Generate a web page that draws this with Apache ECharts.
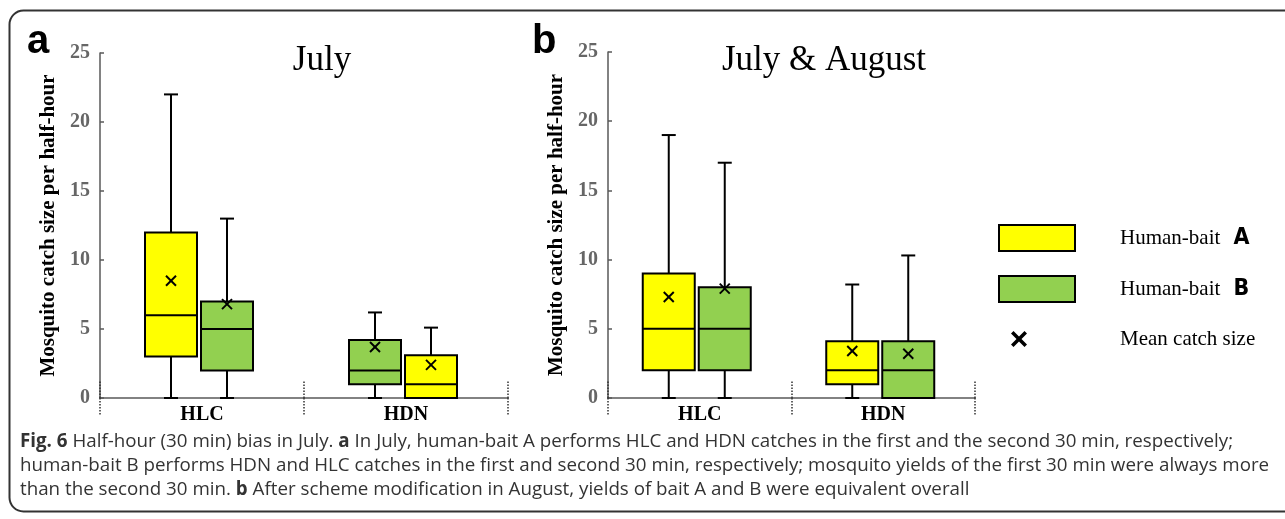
<!DOCTYPE html>
<html><head><meta charset="utf-8">
<script src="https://cdn.jsdelivr.net/npm/echarts@6/dist/echarts.min.js"></script>
<style>html,body{margin:0;padding:0;background:#fff}#c{width:1285px;height:519px}</style>
</head><body><div id="c"></div>
<script>
// ---------- data ----------
const categories = ['HLC', 'HDN'];
const yMin = 0, yMax = 25, yStep = 5;
// [min, Q1, median, Q3, max] per category (HLC, HDN)
// Panel a — July
const julyBaitA = [[0, 3, 6, 12, 22], [0, 0, 1, 3.1, 5.1]];
const julyBaitAHalf = [1, 2];           // half-hour slot (1st / 2nd 30 min)
const julyBaitAMean = [8.5, 2.4];
const julyBaitB = [[0, 2, 5, 7, 13], [0, 1, 2, 4.2, 6.2]];
const julyBaitBHalf = [2, 1];
const julyBaitBMean = [6.8, 3.7];
// Panel b — July & August
const julAugBaitA = [[0, 2, 5, 9, 19], [0, 1, 2, 4.1, 8.2]];
const julAugBaitAHalf = [1, 1];
const julAugBaitAMean = [7.3, 3.4];
const julAugBaitB = [[0, 2, 5, 8, 17], [0, 0, 2, 4.1, 10.3]];
const julAugBaitBHalf = [2, 2];
const julAugBaitBMean = [7.9, 3.2];

const panelTitles = ['July', 'July & August'];
const yAxisName = 'Mosquito catch size per half-hour';
const seriesNames = ['Human-bait A', 'Human-bait B', 'Mean catch size'];

// ---------- styles ----------
const COLOR_A = '#ffff00', COLOR_B = '#92d050';
const SLOT_OFFSET = {1: -31, 2: 25};
const BOX_W = 52, CAP_W = 14;
const SERIF = '"Liberation Serif","Times New Roman",serif';

function boxRows(stats, halves) {
  return stats.map((s, i) => [i, halves[i]].concat(s));
}
function meanRows(meansA, halvesA, meansB, halvesB) {
  return meansA.map((m, i) => [i, halvesA[i], m]).concat(meansB.map((m, i) => [i, halvesB[i], m]));
}
function ln(x1, y1, x2, y2) {
  return {type: 'line', shape: {x1, y1, x2, y2}, style: {stroke: '#000', lineWidth: 2}};
}
function renderBox(params, api) {
  const cat = api.value(0), half = api.value(1);
  const cx = api.coord([cat, 0])[0] + SLOT_OFFSET[half];
  const y = v => api.coord([cat, v])[1];
  const yLo = y(api.value(2)), yQ1 = y(api.value(3)), yMed = y(api.value(4)), yQ3 = y(api.value(5)), yHi = y(api.value(6));
  const ch = [];
  if (yHi < yQ3 - 0.5) ch.push(ln(cx, yQ3, cx, yHi), ln(cx - CAP_W / 2, yHi, cx + CAP_W / 2, yHi));
  if (yLo > yQ1 + 0.5) ch.push(ln(cx, yQ1, cx, yLo), ln(cx - CAP_W / 2, yLo, cx + CAP_W / 2, yLo));
  ch.push({type: 'rect', shape: {x: cx - BOX_W / 2, y: yQ3, width: BOX_W, height: yQ1 - yQ3},
           style: {fill: api.visual('color'), stroke: '#000', lineWidth: 2}});
  ch.push(ln(cx - BOX_W / 2, yMed, cx + BOX_W / 2, yMed));
  return {type: 'group', children: ch};
}
function renderMean(params, api) {
  const cat = api.value(0);
  const cx = api.coord([cat, 0])[0] + SLOT_OFFSET[api.value(1)];
  const cy = api.coord([cat, api.value(2)])[1];
  const s = 5;
  return {type: 'group', children: [ln(cx - s, cy - s, cx + s, cy + s), ln(cx - s, cy + s, cx + s, cy - s)]};
}

const grids = [
  {left: 100, top: 53, width: 408, height: 345},
  {left: 608, top: 52, width: 367, height: 346}
];
const xAxes = [], yAxes = [], series = [];
const panels = [
  {A: julyBaitA, Ah: julyBaitAHalf, Am: julyBaitAMean, B: julyBaitB, Bh: julyBaitBHalf, Bm: julyBaitBMean},
  {A: julAugBaitA, Ah: julAugBaitAHalf, Am: julAugBaitAMean, B: julAugBaitB, Bh: julAugBaitBHalf, Bm: julAugBaitBMean}
];
panels.forEach((p, g) => {
  xAxes.push({
    type: 'category', gridIndex: g, data: categories, position: 'bottom',
    axisLine: {lineStyle: {color: '#595959', width: 1.5}},
    axisTick: {show: true, interval: 0, length: 18, lineStyle: {type: 'dotted', color: '#333', width: 1.5}},
    axisLabel: {margin: 7, color: '#000', fontFamily: SERIF, fontWeight: 'bold', fontSize: 20}
  });
  xAxes.push({
    type: 'category', gridIndex: g, data: categories, position: 'bottom',
    axisLine: {show: false}, axisLabel: {show: false},
    axisTick: {show: true, inside: true, interval: 0, length: 17, lineStyle: {type: 'dotted', color: '#333', width: 1.5}}
  });
  yAxes.push({
    type: 'value', gridIndex: g, min: yMin, max: yMax, interval: yStep,
    name: yAxisName, nameLocation: 'middle', nameGap: 41,
    nameTextStyle: {fontFamily: SERIF, fontWeight: 'bold', fontSize: 21, color: '#000'},
    axisLine: {show: true, lineStyle: {color: '#595959', width: 1.5}},
    axisTick: {show: true, inside: true, length: 4, lineStyle: {color: '#595959', width: 1.5}},
    axisLabel: {margin: 10, color: '#666', fontFamily: SERIF, fontWeight: 'bold', fontSize: 20},
    splitLine: {show: false}
  });
  const xi = g * 2;
  series.push({
    name: seriesNames[0], type: 'custom', xAxisIndex: xi, yAxisIndex: g,
    itemStyle: {color: COLOR_A}, renderItem: renderBox, encode: {x: 0, y: [2, 3, 4, 5, 6]},
    data: boxRows(p.A, p.Ah), z: 2
  });
  series.push({
    name: seriesNames[1], type: 'custom', xAxisIndex: xi, yAxisIndex: g,
    itemStyle: {color: COLOR_B}, renderItem: renderBox, encode: {x: 0, y: [2, 3, 4, 5, 6]},
    data: boxRows(p.B, p.Bh), z: 2
  });
  series.push({
    name: seriesNames[2], type: 'custom', xAxisIndex: xi, yAxisIndex: g,
    itemStyle: {color: '#000'}, renderItem: renderMean, encode: {x: 0, y: 2},
    data: meanRows(p.Am, p.Ah, p.Bm, p.Bh), z: 5
  });
});

// legend X icon placed inside a 76x26 frame
const X_ICON = 'path://M0,0M76,26M12,7.5L14.5,5L20,10.5L25.5,5L28,7.5L22.5,13L28,18.5L25.5,21L20,15.5L14.5,21L12,18.5L17.5,13Z';

const CAP_FONT = '"Open Sans","Noto Sans",sans-serif';
const captionRich = {
  r: {fontFamily: CAP_FONT, fontSize: 18.75, fill: '#333'},
  b: {fontFamily: CAP_FONT, fontSize: 18.75, fontWeight: 'bold', fill: '#333'}
};
const captionLines = [
  '{b|Fig. 6}{r| Half-hour (30 min) bias in July. }{b|a}{r| In July, human-bait A performs HLC and HDN catches in the first and the second 30 min, respectively;}',
  '{r|human-bait B performs HDN and HLC catches in the first and second 30 min, respectively; mosquito yields of the first 30 min were always more}',
  '{r|than the second 30 min. }{b|b}{r| After scheme modification in August, yields of bait A and B were equivalent overall}'
];

const graphics = [
  {type: 'rect', silent: true, z: -10, shape: {x: 9.5, y: 10.5, width: 1320, height: 501, r: 14},
   style: {fill: 'none', stroke: '#333', lineWidth: 2}},
  {type: 'text', style: {x: 27, y: 42, text: 'a', font: 'bold 40px "Liberation Sans", Arial, sans-serif', fill: '#000', textVerticalAlign: 'middle'}},
  {type: 'text', style: {x: 532, y: 42, text: 'b', font: 'bold 40px "Liberation Sans", Arial, sans-serif', fill: '#000', textVerticalAlign: 'middle'}},
  {type: 'text', style: {x: 322, y: 61, text: panelTitles[0], font: '35px ' + SERIF, fill: '#000', textAlign: 'center', textVerticalAlign: 'middle'}},
  {type: 'text', style: {x: 824, y: 61, text: panelTitles[1], font: '35px ' + SERIF, fill: '#000', textAlign: 'center', textVerticalAlign: 'middle'}}
];
captionLines.forEach((t, i) => {
  graphics.push({type: 'text', style: {x: 20, y: 442 + i * 24, text: t, rich: captionRich, textVerticalAlign: 'middle'}});
});

const chart = echarts.init(document.getElementById('c'), null, {renderer: 'canvas'});
chart.setOption({
  animation: false,
  backgroundColor: '#fff',
  grid: grids,
  xAxis: xAxes,
  yAxis: yAxes,
  legend: {
    orient: 'vertical', left: 998, top: 224, padding: 0, itemWidth: 76, itemHeight: 26, itemGap: 23,
    selectedMode: false,
    data: [
      {name: seriesNames[0], icon: 'rect', itemStyle: {color: COLOR_A, borderColor: '#000', borderWidth: 2}},
      {name: seriesNames[1], icon: 'rect', itemStyle: {color: COLOR_B, borderColor: '#000', borderWidth: 2}},
      {name: seriesNames[2], icon: X_ICON, itemStyle: {color: '#000', borderWidth: 0}}
    ],
    formatter: n => n === seriesNames[2] ? '{t|' + n + '}' : n.replace(/^(.*) ([AB])$/, '{t|$1} {k|$2}'),
    textStyle: {
      fontFamily: SERIF, fontSize: 21, color: '#000', padding: [0, 0, 0, 40],
      rich: {
        t: {fontFamily: SERIF, fontSize: 21, color: '#000'},
        k: {fontFamily: '"Liberation Sans Narrow","DejaVu Sans Condensed",sans-serif', fontWeight: 'bold', fontSize: 23, color: '#000', padding: [0, 0, 0, 8]}
      }
    }
  },
  graphic: graphics,
  series: series
});
</script>
</body></html>
